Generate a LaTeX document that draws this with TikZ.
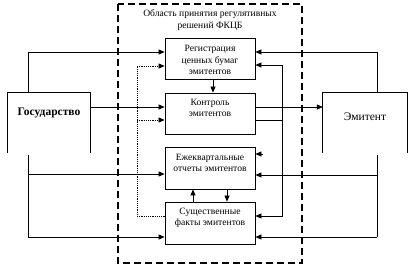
\documentclass[tikz,border=0pt]{standalone}
\usepackage{fontspec}
\setmainfont{Liberation Serif}
\usetikzlibrary{arrows.meta}
\begin{document}
\begin{tikzpicture}[x=1pt,y=-1pt,
  boxst/.style={draw,line width=0.8pt,minimum width=90pt,minimum height=41pt,inner sep=0pt},
  txt/.style={font=\fontsize{9.6}{11.5}\selectfont,align=center,inner sep=0pt},
  bigtxt/.style={font=\fontsize{11.5}{13}\selectfont,inner sep=0pt},
  conn/.style={line width=0.7pt},
  arr/.style={conn,-{Triangle[length=6pt,width=5pt]}},
  dotl/.style={line width=0.7pt,dash pattern=on 1.2pt off 1pt},
  area/.style={line width=2.6pt,dash pattern=on 7pt off 4pt}]
\useasboundingbox (0,0) rectangle (409,272);
% outer region
\draw[area] (118,4) rectangle (302,263);
\node[txt] (lbl) at (210,20) {Область принятия регулятивных\\решений ФКЦБ};
% inner boxes
\node[boxst] (b1) at (210,58.5) {};
\node[boxst] (b2) at (210,113.5) {};
\node[boxst,minimum height=42pt] (b3) at (210,168) {};
\node[boxst,minimum height=42pt] (b4) at (210,223) {};
\node[txt] (t1) at (210,60) {Регистрация\\ценных бумаг\\эмитентов};
\node[txt] (t2) at (210,108) {Контроль\\эмитентов};
\node[txt] (t3) at (210,163) {Ежеквартальные\\отчеты эмитентов};
\node[txt] (t4) at (210,218) {Существенные\\факты эмитентов};
% side boxes (open at bottom)
\node[minimum width=82pt,minimum height=60pt,inner sep=0pt] (gos) at (49,123) {};
\node[minimum width=84pt,minimum height=60pt,inner sep=0pt] (emi) at (365,123) {};
\draw[line width=0.8pt] (gos.south west) -- (gos.north west) -- (gos.north east) -- (gos.south east);
\draw[line width=0.8pt] (emi.south west) -- (emi.north west) -- (emi.north east) -- (emi.south east);
\node[bigtxt,font=\fontsize{11.5}{13}\bfseries] (gost) at (49,113) {Государство};
\node[bigtxt] (emit) at (365,117) {Эмитент};
% Gosudarstvo connectors
\draw[arr] (gos.north west -| 28,0) |- (b1.west |- 0,52);
\draw[arr] (gos.east |- 0,107) -- (b2.west |- 0,107);
\coordinate (gb) at (28,155);
\draw[conn] (gb) -- (28,237);
\draw[arr] (gb |- 0,174) -- (b3.west |- 0,174);
\draw[arr] (gb |- 0,237) -- (b4.west |- 0,237);
% dotted feedback
\draw[dotl] (b4.west |- 0,216) -| (137,66);
\draw[dotl,-{Triangle[length=6pt,width=5pt]}] (137,66) -- (b1.west |- 0,66);
\draw[dotl,-{Triangle[length=6pt,width=5pt]}] (137,120) -- (b2.west |- 0,120);
% right feedback from control
\coordinate (rk) at (282,120);
\draw[conn] (b2.east |- rk) -- (rk);
\draw[arr] (rk) |- (b1.east |- 0,65);
\draw[arr] (rk) |- (b4.east |- 0,216);
% emitent connectors
\draw[arr] (b2.east |- 0,107) -- (emi.west |- 0,107);
\draw[arr] (emi.north west -| 377,0) |- (b1.east |- 0,52);
\coordinate (eb) at (377,155);
\draw[conn] (eb) -- (377,237);
\draw[arr] (eb |- 0,175) -- (b3.east |- 0,175);
\draw[arr] (eb |- 0,237) -- (b4.east |- 0,237);
\coordinate (stub) at (263,154);
\draw[arr] (stub) -- (b3.east |- stub);
% vertical arrows between boxes
\draw[arr] (b1.south -| 213,0) -- (b2.north -| 213,0);
\draw[arr] (b3.south -| 227,0) -- (b4.north -| 227,0);
\draw[arr] (b4.north -| 193,0) -- (b3.south -| 193,0);
\end{tikzpicture}
\end{document}
